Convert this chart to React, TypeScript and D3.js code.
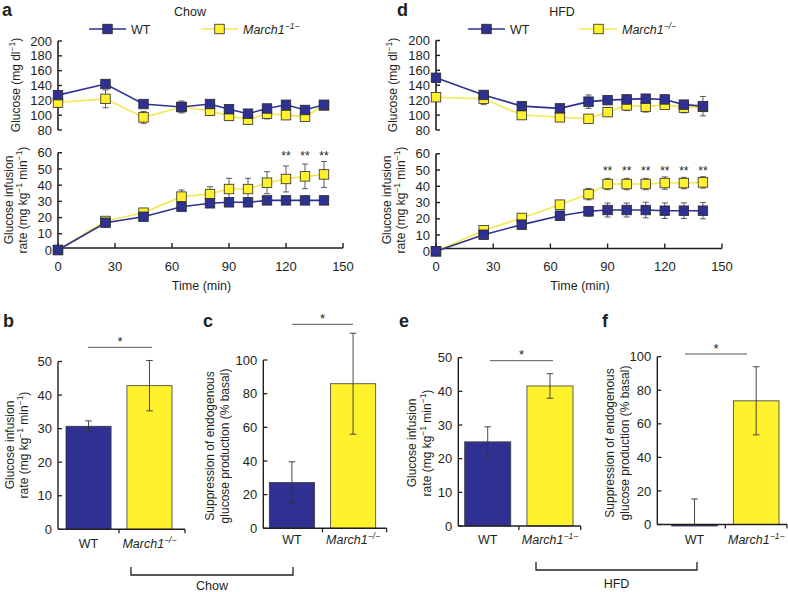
import React from "react";
import * as d3 from "d3";

// ---------- data ----------
const times = [0, 25, 45, 65, 80, 90, 100, 110, 120, 130, 140];
const timeTicks = [0, 30, 60, 90, 120, 150];
const glucoseTicks = [80, 100, 120, 140, 160, 180, 200];
const girTicks = [0, 10, 20, 30, 40, 50, 60];

const chowGlucoseWT = [127, 142, 115, 111, 115, 108, 102, 109, 114, 107, 114];
const chowGlucoseWTErr = [4, 5, 3, 4, 4, 3, 3, 3, 4, 3, 3];
const chowGlucoseKO = [117, 122, 97, 111, 106, 99, 94, 102, 100, 98, 113];
const chowGlucoseKOErr = [6, 12, 8, 8, 6, 6, 6, 7, 5, 4, 3];
const chowGirWT = [0, 16.8, 20.5, 26.7, 28.8, 29.4, 29.4, 30.6, 30.6, 30.6, 30.6];
const chowGirWTErr = [0, 1.5, 1.5, 1.5, 1.5, 1.5, 1.5, 1.5, 1.5, 1.5, 1.5];
const chowGirKO = [0, 17.9, 23, 32.9, 34.5, 37.6, 37.6, 41.5, 43.8, 45.4, 46.6];
const chowGirKOErr = [0, 1.5, 1.5, 4.1, 4.5, 6.6, 6.6, 6.8, 8, 7.6, 8];
const chowStarTimes = [120, 130, 140];

const hfdGlucoseWT = [150, 127, 112, 109, 118, 120, 121, 122, 121, 114, 112];
const hfdGlucoseWTErr = [4, 4, 4, 4, 9, 5, 6, 5, 5, 4, 13];
const hfdGlucoseKO = [124, 122, 100, 97, 95, 104, 113, 111, 114, 110, 111];
const hfdGlucoseKOErr = [4, 8, 5, 5, 5, 6, 7, 7, 4, 7, 6];
const hfdGirWT = [0, 10.2, 16.4, 21.9, 24.6, 25.4, 25.4, 25.4, 25, 25, 25];
const hfdGirWTErr = [0, 1.5, 1.5, 2.5, 3, 4.3, 4.3, 4.8, 4.8, 4.8, 5];
const hfdGirKO = [0, 12.9, 20.5, 28.7, 35.2, 41.4, 41.4, 41.4, 42, 42, 42.4];
const hfdGirKOErr = [0, 1.5, 1.5, 2, 3.5, 3.5, 3.5, 3.5, 3.8, 3.5, 3.5];
const hfdStarTimes = [90, 100, 110, 120, 130, 140];

const barGroups = ["WT", "KO"];
const chowGirBar = [30.7, 42.8];
const chowGirBarErr = [1.6, 7.5];
const chowEgpBar = [27.2, 85.9];
const chowEgpBarErr = [12.3, 30];
const hfdGirBar = [25, 41.6];
const hfdGirBarErr = [4.45, 3.65];
const hfdEgpBar = [-0.8, 73.7];
const hfdEgpBarErr = [16, 20.3];
const girBarTicks = [0, 10, 20, 30, 40, 50];
const egpBarTicks = [0, 20, 40, 60, 80, 100];

// ---------- style ----------
const FONT = "'Liberation Sans', Arial, Helvetica, sans-serif";
const BLUE = "#2e3192";
const YELLOW = "#fff22d";
const YELLOW_LINE = "#f4e94c";
const INK = "#231f20";

type Sc = d3.ScaleLinear<number, number>;

function Series({ x, y, values, errs, fill, line }: { x: Sc; y: Sc; values: number[]; errs: number[]; fill: string; line: string }) {
  const gen = d3.line<number>().x((_, i) => x(times[i])).y((d) => y(d));
  return (
    <g>
      <path d={gen(values) || ""} fill="none" stroke={line} strokeWidth={1.6} />
      {values.map((v, i) =>
        errs[i] > 0 ? (
          <g key={"e" + i} stroke="#333" strokeWidth={0.8}>
            <line x1={x(times[i])} x2={x(times[i])} y1={y(v - errs[i])} y2={y(v + errs[i])} />
            <line x1={x(times[i]) - 3} x2={x(times[i]) + 3} y1={y(v + errs[i])} y2={y(v + errs[i])} />
            <line x1={x(times[i]) - 3} x2={x(times[i]) + 3} y1={y(v - errs[i])} y2={y(v - errs[i])} />
          </g>
        ) : null
      )}
      {values.map((v, i) => (
        <rect key={"m" + i} x={x(times[i]) - 4.75} y={y(v) - 4.75} width={9.5} height={9.5} fill={fill} stroke="#2a2a2a" strokeWidth={0.8} />
      ))}
    </g>
  );
}

function YAxis({ x, y, ticks, fs = 13 }: { x: number; y: Sc; ticks: number[]; fs?: number }) {
  const [d0, d1] = y.domain();
  return (
    <g>
      <line x1={x} x2={x} y1={y(d0)} y2={y(d1)} stroke={INK} strokeWidth={1.6} />
      {ticks.map((t) => (
        <g key={t}>
          <line x1={x} x2={x + 4} y1={y(t)} y2={y(t)} stroke={INK} strokeWidth={1.4} />
          <text x={x - 6} y={y(t) + 4.6} textAnchor="end" fontSize={fs} fill={INK}>{t}</text>
        </g>
      ))}
    </g>
  );
}

function RotLabel({ cx, cy, fs = 12, children }: { cx: number; cy: number; fs?: number; children: React.ReactNode }) {
  return (
    <text transform={`translate(${cx + fs * 0.33},${cy}) rotate(-90)`} textAnchor="middle" fontSize={fs} fill={INK}>
      {children}
    </text>
  );
}

const Sup = ({ t }: { t: string }) => (
  <>
    <tspan dy={-4.5} fontSize={8.5}>{t}</tspan>
    <tspan dy={4.5}>{"\u200A"}</tspan>
  </>
);

function KOLabel({ x, y, sup, anchor = "start", fs = 12.5 }: { x: number; y: number; sup: string; anchor?: string; fs?: number }) {
  return (
    <text x={x} y={y} textAnchor={anchor as any} fontSize={fs} fontStyle="italic" fill={INK}>
      March1<tspan dy={-5} fontSize={8.5}>{sup}</tspan>
    </text>
  );
}

function TimeCourse(props: {
  x0: number; x1: number; topY: [number, number]; botY: [number, number]; axisY: number;
  gWT: number[]; gWTe: number[]; gKO: number[]; gKOe: number[];
  rWT: number[]; rWTe: number[]; rKO: number[]; rKOe: number[];
  stars: number[]; starY: number; title: string; titleX: number;
  legWT: number; legKO: number; koSup: string; letter: string; letterX: number;
  lab1X: number; lab2aX: number; lab2bX: number; timeY: number;
}) {
  const p = props;
  const x = d3.scaleLinear().domain([0, 150]).range([p.x0, p.x1]);
  const yTop = d3.scaleLinear().domain([80, 200]).range(p.topY);
  const yBot = d3.scaleLinear().domain([0, 60]).range(p.botY);
  return (
    <g>
      <text x={p.letterX} y={16} fontSize={18} fontWeight="bold" fill={INK}>{p.letter}</text>
      <text x={p.titleX} y={16} textAnchor="middle" fontSize={12.5} fill={INK}>{p.title}</text>
      {/* legend */}
      <line x1={p.legWT} x2={p.legWT + 37} y1={29} y2={29} stroke={BLUE} strokeWidth={1.6} />
      <rect x={p.legWT + 18.5 - 4.75} y={29 - 4.75} width={9.5} height={9.5} fill={BLUE} stroke="#2a2a2a" strokeWidth={0.8} />
      <text x={p.legWT + 42} y={33.5} fontSize={12.5} fill={INK}>WT</text>
      <line x1={p.legKO} x2={p.legKO + 37} y1={29} y2={29} stroke={YELLOW_LINE} strokeWidth={1.6} />
      <rect x={p.legKO + 18.5 - 4.75} y={29 - 4.75} width={9.5} height={9.5} fill={YELLOW} stroke="#2a2a2a" strokeWidth={0.8} />
      <KOLabel x={p.legKO + 42} y={33.5} sup={p.koSup} />

      {/* top glucose */}
      <YAxis x={p.x0} y={yTop} ticks={glucoseTicks} />
      <RotLabel cx={p.lab1X} cy={85}>
        Glucose (mg dl<tspan dy={-4.5} fontSize={8.5}>−1</tspan><tspan dy={4.5}>)</tspan>
      </RotLabel>
      <Series x={x} y={yTop} values={p.gKO} errs={p.gKOe} fill={YELLOW} line={YELLOW_LINE} />
      <Series x={x} y={yTop} values={p.gWT} errs={p.gWTe} fill={BLUE} line={BLUE} />

      {/* bottom GIR */}
      <YAxis x={p.x0} y={yBot} ticks={girTicks} />
      <line x1={p.x0} x2={p.x1} y1={p.axisY} y2={p.axisY} stroke={INK} strokeWidth={1.6} />
      {timeTicks.map((t) => (
        <g key={t}>
          <line x1={x(t)} x2={x(t)} y1={p.axisY} y2={p.axisY - 5} stroke={INK} strokeWidth={1.4} />
          <text x={x(t)} y={p.timeY} textAnchor="middle" fontSize={13} fill={INK}>{t}</text>
        </g>
      ))}
      <text x={(p.x0 + p.x1) / 2 + 1} y={p.timeY + 19} textAnchor="middle" fontSize={12.5} fill={INK}>Time (min)</text>
      <RotLabel cx={p.lab2aX} cy={200}>Glucose infusion</RotLabel>
      <RotLabel cx={p.lab2bX} cy={200}>
        rate (mg kg<tspan dy={-4.5} fontSize={8.5}>−1</tspan><tspan dy={4.5}> min</tspan><tspan dy={-4.5} fontSize={8.5}>−1</tspan><tspan dy={4.5}>)</tspan>
      </RotLabel>
      <Series x={x} y={yBot} values={p.rKO} errs={p.rKOe} fill={YELLOW} line={YELLOW_LINE} />
      <Series x={x} y={yBot} values={p.rWT} errs={p.rWTe} fill={BLUE} line={BLUE} />
      {p.stars.map((t) => (
        <text key={t} x={x(t)} y={p.starY} textAnchor="middle" fontSize={12} fill={INK}>**</text>
      ))}
    </g>
  );
}

function BarPanel(props: {
  axisX: number; axisEnd: number; y0: number; yTopPx: number; max: number; ticks: number[];
  values: number[]; errs: number[]; barRange: [number, number];
  koSup: string; catY: number; bracketY: number; bracket: [number, number]; starY: number;
  letter: string; letterX: number; lab1: string; lab2: React.ReactNode; lab1X: number; lab2X: number; labY: number;
}) {
  const p = props;
  const y = d3.scaleLinear().domain([0, p.max]).range([p.y0, p.yTopPx]);
  const xb = d3.scaleBand().domain(barGroups).range(p.barRange).paddingInner(0.26).paddingOuter(0);
  const bw = xb.bandwidth();
  const cx = (g: string) => (xb(g) as number) + bw / 2;
  const mid = ((xb("WT") as number) + bw + (xb("KO") as number)) / 2;
  return (
    <g>
      <text x={p.letterX} y={327} fontSize={18} fontWeight="bold" fill={INK}>{p.letter}</text>
      {barGroups.map((g, i) => {
        const v = p.values[i];
        const top = Math.max(v, 0);
        const bot = Math.min(v, 0);
        return (
          <rect key={g} x={xb(g)} y={y(top)} width={bw} height={Math.max(y(bot) - y(top), 1.5)}
            fill={i === 0 ? BLUE : YELLOW} stroke="#3a3a3a" strokeWidth={0.8} />
        );
      })}
      {barGroups.map((g, i) => {
        const v = p.values[i];
        const e = p.errs[i];
        const hi = v + e;
        const lo = Math.max(v - e, 0);
        return (
          <g key={"e" + g} stroke="#333" strokeWidth={0.9}>
            <line x1={cx(g)} x2={cx(g)} y1={y(lo)} y2={y(hi)} />
            <line x1={cx(g) - 3.3} x2={cx(g) + 3.3} y1={y(hi)} y2={y(hi)} />
            {v - e >= 0 ? <line x1={cx(g) - 3.3} x2={cx(g) + 3.3} y1={y(lo)} y2={y(lo)} /> : null}
          </g>
        );
      })}
      <line x1={p.axisX} x2={p.axisX} y1={y(0)} y2={y(p.max)} stroke={INK} strokeWidth={1.4} />
      {p.ticks.map((t) => (
        <g key={t}>
          <line x1={p.axisX} x2={p.axisX + 4} y1={y(t)} y2={y(t)} stroke={INK} strokeWidth={1.3} />
          <text x={p.axisX - 6} y={y(t) + 4.6} textAnchor="end" fontSize={13} fill={INK}>{t}</text>
        </g>
      ))}
      <line x1={p.axisX} x2={p.axisEnd} y1={y(0)} y2={y(0)} stroke={INK} strokeWidth={1.4} />
      <line x1={mid} x2={mid} y1={y(0)} y2={y(0) + 4} stroke={INK} strokeWidth={1.3} />
      <line x1={p.axisEnd} x2={p.axisEnd} y1={y(0)} y2={y(0) + 4} stroke={INK} strokeWidth={1.3} />
      <text x={cx("WT")} y={p.catY} textAnchor="middle" fontSize={12.5} fill={INK}>WT</text>
      <KOLabel x={cx("KO")} y={p.catY} sup={p.koSup} anchor="middle" />
      <line x1={p.bracket[0]} x2={p.bracket[1]} y1={p.bracketY} y2={p.bracketY} stroke="#444" strokeWidth={0.9} />
      <text x={(p.bracket[0] + p.bracket[1]) / 2} y={p.starY} textAnchor="middle" fontSize={13} fill={INK}>*</text>
      <RotLabel cx={p.lab1X} cy={p.labY}>{p.lab1}</RotLabel>
      <RotLabel cx={p.lab2X} cy={p.labY}>{p.lab2}</RotLabel>
    </g>
  );
}

const girLab2 = (
  <>
    rate (mg kg<tspan dy={-4.5} fontSize={8.5}>−1</tspan><tspan dy={4.5}> min</tspan><tspan dy={-4.5} fontSize={8.5}>−1</tspan><tspan dy={4.5}>)</tspan>
  </>
);

function GroupBracket({ x0, x1, y, label, ty }: { x0: number; x1: number; y: number; label: string; ty: number }) {
  return (
    <g>
      <path d={`M${x0},${y - 8}V${y}H${x1}V${y - 8}`} fill="none" stroke={INK} strokeWidth={1.3} />
      <text x={(x0 + x1) / 2} y={ty} textAnchor="middle" fontSize={12.5} fill={INK}>{label}</text>
    </g>
  );
}

export default function App() {
  return (
    <svg width={788} height={592} style={{ position: "absolute", left: 0, top: 0, background: "#fff" }} fontFamily={FONT}>
      <TimeCourse
        x0={58} x1={343} topY={[130, 41]} botY={[250, 152.7]} axisY={248}
        gWT={chowGlucoseWT} gWTe={chowGlucoseWTErr} gKO={chowGlucoseKO} gKOe={chowGlucoseKOErr}
        rWT={chowGirWT} rWTe={chowGirWTErr} rKO={chowGirKO} rKOe={chowGirKOErr}
        stars={chowStarTimes} starY={160} title="Chow" titleX={190}
        legWT={89} legKO={201} koSup="−1−" letter="a" letterX={2}
        lab1X={16} lab2aX={9} lab2bX={23} timeY={271}
      />
      <TimeCourse
        x0={436} x1={722} topY={[130, 40.5]} botY={[251.3, 153.8]} axisY={248.5}
        gWT={hfdGlucoseWT} gWTe={hfdGlucoseWTErr} gKO={hfdGlucoseKO} gKOe={hfdGlucoseKOErr}
        rWT={hfdGirWT} rWTe={hfdGirWTErr} rKO={hfdGirKO} rKOe={hfdGirKOErr}
        stars={hfdStarTimes} starY={175} title="HFD" titleX={562}
        legWT={468} legKO={580} koSup="−/−" letter="d" letterX={397}
        lab1X={393} lab2aX={387} lab2bX={401} timeY={271}
      />
      <BarPanel
        axisX={58} axisEnd={185} y0={529.3} yTopPx={361.5} max={50} ticks={girBarTicks}
        values={chowGirBar} errs={chowGirBarErr} barRange={[66, 172]}
        koSup="−/−" catY={548} bracketY={347.3} bracket={[88, 152]} starY={346}
        letter="b" letterX={3} lab1="Glucose infusion" lab2={girLab2} lab1X={10} lab2X={24} labY={445}
      />
      <BarPanel
        axisX={263.3} axisEnd={386.7} y0={528.3} yTopPx={360} max={100} ticks={egpBarTicks}
        values={chowEgpBar} errs={chowEgpBarErr} barRange={[269.3, 375.7]}
        koSup="−/−" catY={544} bracketY={324.3} bracket={[292, 353]} starY={323}
        letter="c" letterX={203} lab1="Suppression of endogenous" lab2="glucose production (% basal)" lab1X={210} lab2X={225} labY={446}
      />
      <BarPanel
        axisX={458.3} axisEnd={580.7} y0={526} yTopPx={357.7} max={50} ticks={girBarTicks}
        values={hfdGirBar} errs={hfdGirBarErr} barRange={[464.7, 573]}
        koSup="−1−" catY={544} bracketY={360.7} bracket={[490, 553]} starY={359}
        letter="e" letterX={399} lab1="Glucose infusion" lab2={girLab2} lab1X={412} lab2X={427} labY={443}
      />
      <BarPanel
        axisX={657.3} axisEnd={787} y0={524.5} yTopPx={356.7} max={100} ticks={egpBarTicks}
        values={hfdEgpBar} errs={hfdEgpBarErr} barRange={[671.7, 779]}
        koSup="−1−" catY={544} bracketY={354} bracket={[685, 747]} starY={353}
        letter="f" letterX={602} lab1="Suppression of endogenous" lab2="glucose production (% basal)" lab1X={610} lab2X={625} labY={443}
      />
      <GroupBracket x0={131} x1={293} y={575} label="Chow" ty={590} />
      <GroupBracket x0={536} x1={697} y={570} label="HFD" ty={588} />
    </svg>
  );
}
